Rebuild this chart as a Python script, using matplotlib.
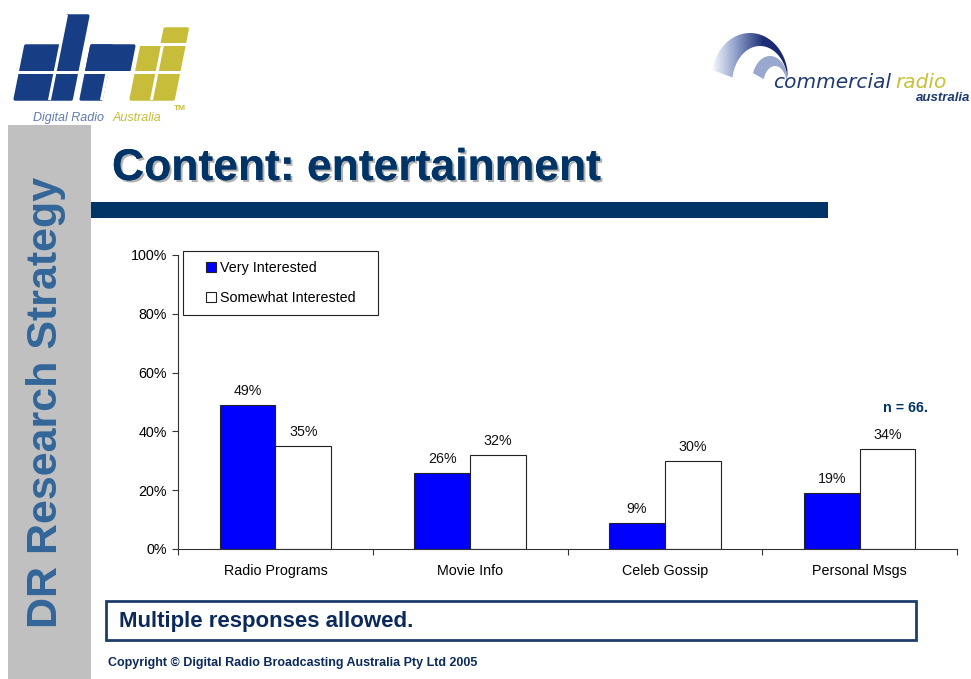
import numpy as np
import matplotlib
matplotlib.use("Agg")
import matplotlib.pyplot as plt
from matplotlib.patches import Rectangle, Polygon, PathPatch
from matplotlib.path import Path
from matplotlib.lines import Line2D
from matplotlib.colors import LinearSegmentedColormap
import matplotlib.patheffects as pe

plt.rcParams['font.family'] = ['Liberation Sans', 'DejaVu Sans']

# survey data
categories = ["Radio Programs", "Movie Info", "Celeb Gossip", "Personal Msgs"]
very_interested = [49, 26, 9, 19]
somewhat_interested = [35, 32, 30, 34]
series_names = ["Very Interested", "Somewhat Interested"]
y_ticks = [0, 20, 40, 60, 80, 100]

NAVY = "#003366"
DRA_BLUE = "#173E85"
OLIVE = "#C8BD3A"

fig = plt.figure(figsize=(9.71, 6.79), dpi=100)

# background layer in pixel coordinates (y down)
bg = fig.add_axes([0, 0, 1, 1], zorder=0)
bg.set_xlim(0, 971)
bg.set_ylim(679, 0)
bg.axis("off")

# grey side strip
bg.add_patch(Rectangle((8, 125), 83, 554, color="#C0C0C0", lw=0))
bg.text(46, 402, "DR Research Strategy", rotation=90, ha="center", va="center",
        fontsize=31, fontweight="bold", color="#336699")

# title and rule
bg.text(112, 180, "Content: entertainment", fontsize=32, fontweight="bold",
        color=NAVY, va="baseline",
        path_effects=[pe.withSimplePatchShadow(offset=(1.5, -1.5), shadow_rgbFace="#A8A8A8", alpha=0.9),
                      pe.Normal()])
bg.add_patch(Rectangle((91, 202), 737, 16, color=NAVY, lw=0))

# dra logo: slanted blocks split by white gaps
def skew(pts, k=0.2, base=100):
    return [(x + k * (base - y), y) for x, y in pts]

def block(x0, x1, y0, y1, color, soft=True):
    pts = skew([(x0, y0), (x1, y0), (x1, y1), (x0, y1)])
    bg.add_patch(Polygon(pts, closed=True, facecolor=color, edgecolor=color,
                         lw=2.5 if soft else 0, joinstyle="round"))

block(15, 49, 46, 99, DRA_BLUE)      # d bowl
block(51, 71, 16, 99, DRA_BLUE)      # d stem
block(81, 123, 46, 71, DRA_BLUE)     # r arm
block(81, 101, 46, 99, DRA_BLUE)     # r stem
block(131, 173, 46, 99, OLIVE)       # a bowl
block(151, 173, 29, 44, OLIVE)       # a hook
for x0, x1, y0, y1 in [(10, 180, 71, 74), (48, 51, 15, 100), (100, 103, 72, 100),
                       (150, 153, 45, 100), (125, 178, 43, 46)]:
    block(x0, x1, y0, y1, "white", soft=False)
bg.text(33, 121, "Digital Radio", fontsize=9, style="italic", color="#5E7AB0", va="baseline")
bg.text(113, 121, "Australia", fontsize=9, style="italic", color=OLIVE, va="baseline")
bg.text(174, 110, "TM", fontsize=6, fontweight="bold", color=OLIVE, va="baseline")

# commercial radio logo: gradient swoosh
t = np.linspace(np.radians(170), np.radians(10), 60)
outer = np.column_stack([750 + 38 * np.cos(t), 78 - 45 * np.sin(t)])
ti = t[::-1]
inner = np.column_stack([760 + 28 * np.cos(ti), 84 - 38 * np.sin(ti)])
verts = np.vstack([outer, inner, outer[:1]])
swoosh = PathPatch(Path(verts, closed=True), facecolor="none", edgecolor="none")
bg.add_patch(swoosh)
grad = LinearSegmentedColormap.from_list("sw", ["#FFFFFF", "#8C9CC8", "#1E2F78", "#16246A"])
img = bg.imshow(np.linspace(0, 1, 100)[None, :], cmap=grad, aspect="auto",
                extent=(710, 790, 80, 30), zorder=1)
img.set_clip_path(swoosh)
t2 = np.linspace(np.radians(160), np.radians(15), 40)
o2 = np.column_stack([770 + 18 * np.cos(t2), 82 - 26 * np.sin(t2)])
i2 = np.column_stack([775 + 12 * np.cos(t2[::-1]), 86 - 20 * np.sin(t2[::-1])])
bg.add_patch(Polygon(np.vstack([o2, i2]), closed=True, color="#7F93C4", lw=0, alpha=0.8))
bg.text(773, 88, "commercial", fontsize=14.5, style="italic", family="DejaVu Sans",
        color="#1F3A70", va="baseline")
bg.text(895, 88, "radio", fontsize=14.5, style="italic", family="DejaVu Sans",
        color="#C8C03A", va="baseline")
bg.text(916, 101, "australia", fontsize=9.5, style="italic", fontweight="bold",
        color="#1F3A70", va="baseline")

# footer
bg.add_patch(Rectangle((106, 601), 810, 39, facecolor="white", edgecolor="#1F3D6B", lw=2))
bg.text(119, 621, "Multiple responses allowed.", fontsize=16, fontweight="bold",
        color="#0B2A5B", va="center")
bg.text(108, 663, "Copyright \u00a9 Digital Radio Broadcasting Australia Pty Ltd 2005",
        fontsize=9, fontweight="bold", color="#0B2A5B", va="center")

# bar chart
ax = fig.add_axes([178 / 971, 130 / 679, 779 / 971, 294 / 679], zorder=2)
ax.patch.set_alpha(0)
x = np.arange(len(categories))
w = 0.286
b1 = ax.bar(x - w / 2, very_interested, w, color="#0000FF", edgecolor="#222222", lw=0.8)
b2 = ax.bar(x + w / 2, somewhat_interested, w, color="white", edgecolor="#222222", lw=0.8)
for bars, vals in [(b1, very_interested), (b2, somewhat_interested)]:
    for rect, v in zip(bars, vals):
        ax.annotate(f"{v}%", (rect.get_x() + rect.get_width() / 2, v),
                    xytext=(0, 10), textcoords="offset points",
                    ha="center", va="center", fontsize=10.3, color="#111111")

ax.set_xlim(-0.5, 3.5)
ax.set_ylim(0, 100)
ax.set_yticks(y_ticks, labels=[f"{v}%" for v in y_ticks])
ax.set_xticks(np.arange(-0.5, 4, 1), labels=[""] * 5)
ax.set_xticks(x, labels=categories, minor=True)
ax.tick_params(axis="x", which="major", length=4.5, direction="out", color="#333333")
ax.tick_params(axis="x", which="minor", length=0, pad=11, labelsize=10.3)
ax.tick_params(axis="y", length=4.5, pad=3.5, labelsize=10.3, color="#333333")
for s in ["top", "right"]:
    ax.spines[s].set_visible(False)
for s in ["left", "bottom"]:
    ax.spines[s].set_color("#333333")
    ax.spines[s].set_linewidth(0.8)

handles = [Line2D([], [], marker="s", ls="none", markersize=7.5, markerfacecolor="#0000FF",
                  markeredgecolor="#222222", markeredgewidth=0.8),
           Line2D([], [], marker="s", ls="none", markersize=7.5, markerfacecolor="white",
                  markeredgecolor="#222222", markeredgewidth=0.8)]
leg = ax.legend(handles, series_names, loc="upper left", bbox_to_anchor=(0.0064, 1.012, 0.2503, 0),
                mode="expand", fontsize=10.3, frameon=True, fancybox=False, framealpha=1,
                edgecolor="#222222", borderpad=0.65, labelspacing=1.15,
                handlelength=2.6, handletextpad=-0.66, borderaxespad=0)
leg.get_frame().set_linewidth(0.8)
leg._legend_box.align = "left"

fig.text(928 / 971, 1 - 408 / 679, "n = 66.", ha="right", va="center",
         fontsize=10.3, fontweight="bold", color=NAVY)

fig.savefig("out.png", dpi=100)
